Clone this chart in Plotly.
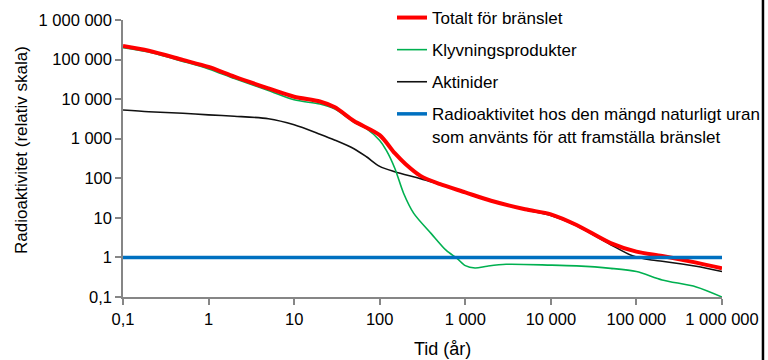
import plotly.graph_objects as go

# Time (years)
total_x = [0.1, 0.2, 0.5, 1, 2, 5, 10, 20, 30, 50, 100, 150, 200, 300, 500, 1000, 2000, 5000, 10000, 20000, 50000, 100000, 200000, 500000, 1000000]
total_y = [220000, 167000, 98000, 65000, 37000, 18700, 11500, 8700, 6200, 2800, 1230, 430, 230, 115, 72, 44, 27, 16.5, 12.3, 6.6, 2.3, 1.4, 1.09, 0.74, 0.53]

fission_x = [0.1, 0.2, 0.5, 1, 2, 5, 10, 20, 30, 50, 70, 100, 120, 150, 190, 250, 400, 600, 800, 1000, 1300, 1800, 3000, 10000, 20000, 50000, 100000, 200000, 500000, 1000000]
fission_y = [200000, 155000, 90000, 58000, 33000, 16500, 9600, 7500, 5600, 2600, 1800, 900, 500, 180, 42, 13, 4, 1.5, 0.95, 0.62, 0.54, 0.6, 0.67, 0.64, 0.61, 0.53, 0.44, 0.27, 0.18, 0.10]

actinide_x = [0.1, 0.2, 0.5, 1, 2, 5, 10, 20, 30, 50, 70, 100, 150, 300, 500, 1000, 2000, 5000, 10000, 20000, 50000, 90000, 150000, 200000, 500000, 1000000]
actinide_y = [5300, 4800, 4400, 4000, 3700, 3200, 2250, 1300, 920, 560, 350, 200, 147, 98, 70, 44, 27, 16, 11.5, 6.3, 2.1, 1.1, 0.86, 0.8, 0.6, 0.44]

uranium_x = [0.1, 1000000]
uranium_y = [1, 1]

tick_vals = [0.1, 1, 10, 100, 1000, 10000, 100000, 1000000]
tick_text = ["0,1", "1", "10", "100", "1 000", "10 000", "100 000", "1 000 000"]

names = ["Totalt för bränslet", "Klyvningsprodukter", "Aktinider",
         "Radioaktivitet hos den mängd naturligt uran<br>som använts för att framställa bränslet"]

FONT = "Liberation Sans, Arial, sans-serif"

fig = go.Figure()
fig.add_trace(go.Scatter(x=actinide_x, y=actinide_y, mode="lines", name=names[2],
                         line=dict(color="#111111", width=1.6, shape="spline", smoothing=0.8),
                         legendrank=3, legendgroup="c"))
fig.add_trace(go.Scatter(x=fission_x, y=fission_y, mode="lines", name=names[1],
                         line=dict(color="#00B050", width=1.6, shape="spline", smoothing=0.8),
                         legendrank=2, legendgroup="b"))
fig.add_trace(go.Scatter(x=total_x, y=total_y, mode="lines", name=names[0],
                         line=dict(color="#FF0000", width=4, shape="spline", smoothing=0.8),
                         legendrank=1, legendgroup="a"))
fig.add_trace(go.Scatter(x=uranium_x, y=uranium_y, mode="lines", name=names[3],
                         line=dict(color="#0070C0", width=3.5),
                         legendrank=4, legendgroup="d"))

axis_common = dict(
    type="log", showgrid=False, zeroline=False,
    showline=True, linecolor="#868686", linewidth=1.5,
    ticks="outside", ticklen=6, tickcolor="#868686", tickwidth=1.5,
    tickvals=tick_vals, ticktext=tick_text,
    tickfont=dict(family=FONT, size=16.5, color="#000000"),
    range=[-1, 6], automargin=False,
)

fig.update_layout(
    width=768, height=360,
    margin=dict(l=123, r=46, t=20, b=63, autoexpand=False),
    paper_bgcolor="white", plot_bgcolor="white",
    font=dict(family=FONT, size=16, color="#000000"),
    xaxis=axis_common,
    yaxis=axis_common,
    showlegend=True,
    legend=dict(x=0.5104, y=1.0, xref="container", yref="container",
                xanchor="left", yanchor="top",
                font=dict(family=FONT, size=17, color="#000000"),
                bgcolor="rgba(0,0,0,0)", tracegroupgap=7, valign="top",
                itemwidth=30),
    annotations=[
        dict(text="Tid (år)", x=0.5326, y=-0.1877, xref="paper", yref="paper",
             showarrow=False, font=dict(family=FONT, size=18, color="#000000"),
             xanchor="center", yanchor="middle"),
        dict(text="Radioaktivitet (relativ skala)", x=-0.1686, y=0.5307, xref="paper", yref="paper",
             showarrow=False, textangle=-90, font=dict(family=FONT, size=17, color="#000000"),
             xanchor="center", yanchor="middle"),
    ],
    shapes=[
        dict(type="line", xref="paper", yref="paper", x0=1.0684, x1=1.0684, y0=-0.3, y1=1.2,
             line=dict(color="#000000", width=2.5)),
    ],
)

fig.write_html("out.html")
